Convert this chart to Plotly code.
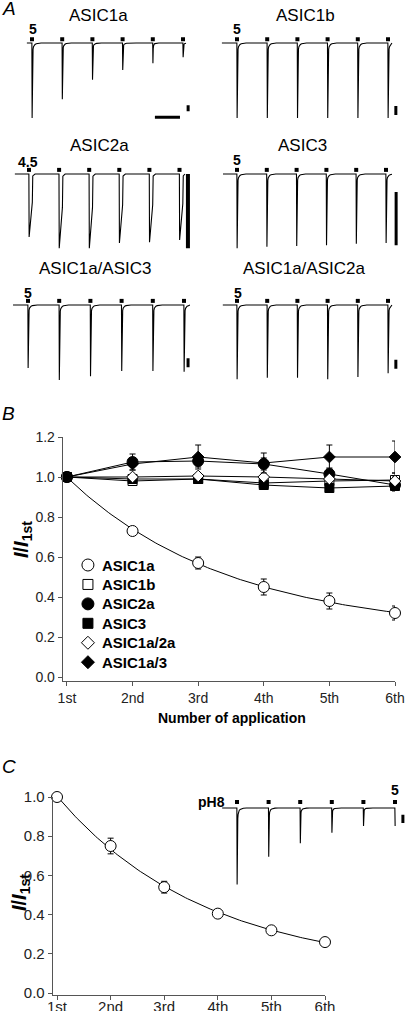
import numpy as np
import plotly.graph_objects as go

W, H = 405, 1011
FONT = "Liberation Sans, Arial, sans-serif"

# ---------------- DATA ----------------
applications = ["1st", "2nd", "3rd", "4th", "5th", "6th"]
app_index = [1, 2, 3, 4, 5, 6]

# Panel A: relative peak amplitudes of the six responses
peaks_asic1a = [1.00, 0.75, 0.49, 0.36, 0.27, 0.19]
peaks_asic1b = [1.00, 1.00, 1.00, 1.00, 1.00, 1.00]
peaks_asic2a = [0.84, 0.99, 0.99, 0.92, 0.91, 0.88]
peaks_asic3 = [0.99, 0.97, 0.96, 0.95, 0.93, 0.92]
peaks_asic1a_3 = [0.84, 1.00, 0.95, 0.88, 0.88, 0.89]
peaks_asic1a_2a = [0.99, 0.97, 0.97, 0.99, 0.96, 0.91]
peaks_ph8 = [1.02, 0.65, 0.47, 0.33, 0.24, 0.24]

# Panel B: normalized current I/I1st
b_asic1a = [1.00, 0.73, 0.57, 0.45, 0.38, 0.32]
b_asic1a_err = [0.00, 0.01, 0.03, 0.04, 0.04, 0.035]
b_asic1b = [1.00, 0.98, 0.99, 0.97, 0.98, 0.985]
b_asic1b_err = [0.00, 0.01, 0.01, 0.01, 0.02, 0.035]
b_asic2a = [1.00, 1.075, 1.08, 1.065, 1.015, 0.96]
b_asic2a_err = [0.00, 0.04, 0.03, 0.03, 0.03, 0.03]
b_asic3 = [1.00, 0.99, 0.99, 0.96, 0.945, 0.955]
b_asic3_err = [0.00, 0.01, 0.01, 0.01, 0.015, 0.02]
b_asic1a_2a = [1.00, 1.00, 1.005, 1.00, 0.99, 0.98]
b_asic1a_2a_err = [0.00, 0.01, 0.01, 0.01, 0.015, 0.02]
b_asic1a_3 = [1.00, 1.065, 1.10, 1.07, 1.10, 1.10]
b_asic1a_3_err = [0.00, 0.03, 0.06, 0.05, 0.06, 0.08]

# Panel C: ASIC1a at conditioning pH 8
c_asic1a = [1.00, 0.75, 0.54, 0.405, 0.32, 0.26]
c_asic1a_err = [0.00, 0.04, 0.03, 0.02, 0.01, 0.01]

# ---------------- helpers ----------------
def px(x):
    return x / W

def py(y):
    return 1 - y / H

U = 75.0  # px per unit amplitude in trace panels

def waveform(peaks, kind, t_start, t_end):
    t = [t_start]
    y = [0.0]
    for i, p in enumerate(peaks):
        t0 = float(i)
        t += [t0 - 0.004, t0 + 0.004]
        y += [0.0, -p]
        if kind == "slow":
            seg = [(0.11, -0.45 * p), (0.125, -0.03 * p), (0.2, 0.0)]
        else:
            seg = []
            for dt in [0.008, 0.015, 0.025, 0.035, 0.05, 0.07, 0.1, 0.14, 0.2, 0.3, 0.45]:
                seg.append((dt, -p * (0.9 * np.exp(-dt / 0.01) + 0.1 * np.exp(-dt / 0.06))))
        for dt, v in seg:
            if t0 + dt <= t_end:
                t.append(t0 + dt)
                y.append(v)
    if t[-1] < t_end:
        t.append(t_end)
        y.append(0.0)
    return t, y

fig = go.Figure()
layout = dict(
    width=W, height=H, margin=dict(l=0, r=0, t=0, b=0, autoexpand=False),
    paper_bgcolor="white", plot_bgcolor="rgba(0,0,0,0)",
    showlegend=False, font=dict(family=FONT, color="black", size=14),
)
annotations = []

trace_panels = [
    (peaks_asic1a, "fast", 32, 30.2, 43, -0.17, 5.1, "5", 0.03, 0.19,
     (5.17, -0.83, -0.91, 3), (4.07, 4.9, -0.99, 3), "ASIC1a", (98, 15.5), 0.05),
    (peaks_asic1b, "fast", 237, 30.2, 43, -0.5, 5.13, "5", 0.0, 0.19,
     (5.26, -0.84, -0.96, 3), None, "ASIC1b", (305, 15.5), 0.05),
    (peaks_asic2a, "slow", 29, 30.1, 174, -0.47, 5.18, "4.5", -0.03, 0.16,
     (5.28, 0.0, -0.99, 4), None, "ASIC2a", (99, 145.5), 0.055),
    (peaks_asic3, "fast", 237, 29.8, 174, -0.47, 5.2, "5", 0.0, 0.19,
     (5.34, -0.24, -0.95, 3), None, "ASIC3", (302, 145.5), 0.055),
    (peaks_asic1a_3, "fast", 28, 31.2, 305, -0.48, 5.19, "5", 0.0, 0.16,
     (5.13, -0.71, -0.83, 3), None, "ASIC1a/ASIC3", (95, 268), 0.055),
    (peaks_asic1a_2a, "fast", 237, 30.2, 305, -0.47, 5.13, "5", 0.02, 0.16,
     (5.26, -0.73, -0.85, 3), None, "ASIC1a/ASIC2a", (304, 268), 0.055),
    (peaks_ph8, "fast", 237, 31.6, 808, -0.47, 5.0, "5", 5.0, 0.24,
     (5.25, -0.09, -0.2, 3), None, None, None, 0.08),
]

ax_n = 0
for (pk, kind, x0, s, yb, ts, te, lab, lab_t, lab_y, vbar, hbar, title, txy, mk_y) in trace_panels:
    ax_n += 1
    xs = "" if ax_n == 1 else str(ax_n)
    L = x0 - 0.6 * s
    R = min(W, x0 + 5.6 * s)
    layout["xaxis" + xs] = dict(domain=[px(L), px(R)], range=[(L - x0) / s, (R - x0) / s],
                                visible=False, anchor="y" + xs, fixedrange=True)
    layout["yaxis" + xs] = dict(domain=[py(yb + 1.2 * U), py(yb - 0.3 * U)], range=[-1.2, 0.3],
                                visible=False, anchor="x" + xs, fixedrange=True)
    tt, yy = waveform(pk, kind, ts, te)
    fig.add_trace(go.Scatter(x=tt, y=yy, mode="lines", line=dict(color="black", width=1.1),
                             xaxis="x" + xs, yaxis="y" + xs, hoverinfo="skip", cliponaxis=False))
    fig.add_trace(go.Scatter(x=list(range(len(pk))), y=[mk_y] * len(pk), mode="markers",
                             marker=dict(symbol="square", size=4, color="black"),
                             xaxis="x" + xs, yaxis="y" + xs, hoverinfo="skip", cliponaxis=False))
    vt, v1, v2, vw = vbar
    fig.add_trace(go.Scatter(x=[vt, vt], y=[v1, v2], mode="lines", line=dict(color="black", width=vw),
                             xaxis="x" + xs, yaxis="y" + xs, hoverinfo="skip", cliponaxis=False))
    if hbar is not None:
        h1, h2, hy, hw = hbar
        fig.add_trace(go.Scatter(x=[h1, h2], y=[hy, hy], mode="lines", line=dict(color="black", width=hw),
                                 xaxis="x" + xs, yaxis="y" + xs, hoverinfo="skip", cliponaxis=False))
    annotations.append(dict(text="<b>%s</b>" % lab, x=lab_t, y=lab_y, xref="x" + xs, yref="y" + xs,
                            showarrow=False, font=dict(size=14, family=FONT), xanchor="center", yanchor="middle"))
    if title:
        annotations.append(dict(text=title, x=px(txy[0]), y=py(txy[1]), xref="paper", yref="paper",
                                showarrow=False, font=dict(size=17, family=FONT), xanchor="center", yanchor="middle"))

annotations.append(dict(text="<b>pH8</b>", x=px(227), y=py(802), xref="paper", yref="paper",
                        showarrow=False, font=dict(size=14, family=FONT), xanchor="right", yanchor="middle"))

# ---------------- panel B ----------------
def fit_exp(xv, yv):
    xv = np.asarray(xv, float) - 1
    yv = np.asarray(yv, float)
    best = None
    for c in np.linspace(0, yv.min() - 0.005, 300):
        slope, inter = np.polyfit(xv, np.log(yv - c), 1)
        pred = c + np.exp(inter + slope * xv)
        sse = np.sum((pred - yv) ** 2)
        if best is None or sse < best[0]:
            best = (sse, c, inter, slope)
    _, c, inter, slope = best
    xf = np.linspace(0, xv.max(), 120)
    return xf + 1, c + np.exp(inter + slope * xf)

axis_common = dict(showline=True, linecolor="#555", linewidth=1.3, ticks="outside", ticklen=4,
                   tickcolor="#555", showgrid=False, zeroline=False, fixedrange=True, automargin=False)

layout["xaxis8"] = dict(domain=[px(63), px(395)], range=[0.94, 6.0], anchor="y8",
                        tickvals=app_index, ticktext=applications,
                        tickfont=dict(size=14, family=FONT, color="#222"), **axis_common)
layout["yaxis8"] = dict(domain=[py(681), py(437)], range=[-0.02, 1.2], anchor="x8",
                        tickvals=[0, 0.2, 0.4, 0.6, 0.8, 1.0, 1.2], tickformat=".1f",
                        tickfont=dict(size=14, family=FONT, color="#222"), **axis_common)

xf, yf = fit_exp(app_index, b_asic1a)
fig.add_trace(go.Scatter(x=xf, y=yf, mode="lines", line=dict(color="black", width=1),
                         xaxis="x8", yaxis="y8", hoverinfo="skip"))

def err(a):
    return dict(type="data", array=a, visible=True, color="black", thickness=1, width=3)

b_series = [
    ("ASIC1a", b_asic1a, b_asic1a_err, "circle", 11, "white", "markers", 12),
    ("ASIC1b", b_asic1b, b_asic1b_err, "square", 9, "white", "lines+markers", 10),
    ("ASIC2a", b_asic2a, b_asic2a_err, "circle", 11, "black", "lines+markers", 12),
    ("ASIC3", b_asic3, b_asic3_err, "square", 9, "black", "lines+markers", 10),
    ("ASIC1a/2a", b_asic1a_2a, b_asic1a_2a_err, "diamond", 9, "white", "lines+markers", 10),
    ("ASIC1a/3", b_asic1a_3, b_asic1a_3_err, "diamond", 9, "black", "lines+markers", 10),
]
for name, vals, e, sym, size, fill, mode, _ in b_series:
    fig.add_trace(go.Scatter(x=app_index, y=vals, mode=mode, name=name, error_y=err(e),
                             line=dict(color="black", width=1),
                             marker=dict(symbol=sym, size=size, color=fill, line=dict(color="black", width=1)),
                             xaxis="x8", yaxis="y8", cliponaxis=False))

leg_x, leg_text_x, leg_y0, leg_dy = 1.32, 1.50, 0.56, 0.0972
for i, (name, vals, e, sym, size, fill, mode, lsize) in enumerate(b_series):
    yy = leg_y0 - i * leg_dy
    fig.add_trace(go.Scatter(x=[leg_x], y=[yy], mode="markers",
                             marker=dict(symbol=sym, size=lsize, color=fill, line=dict(color="black", width=1)),
                             xaxis="x8", yaxis="y8", hoverinfo="skip"))
    annotations.append(dict(text="<b>%s</b>" % name, x=leg_text_x, y=yy, xref="x8", yref="y8",
                            showarrow=False, xanchor="left", yanchor="middle",
                            font=dict(size=15, family=FONT)))

annotations.append(dict(text="<b>Number of application</b>", x=px(232), y=py(718), xref="paper", yref="paper",
                        showarrow=False, font=dict(size=14, family=FONT), xanchor="center", yanchor="middle"))
annotations.append(dict(text="<b><i>I</i>/<i>I</i><sub>1st</sub></b>", x=px(22), y=py(540), xref="paper",
                        yref="paper", showarrow=False, textangle=-90, font=dict(size=20, family=FONT),
                        xanchor="center", yanchor="middle"))

# ---------------- panel C ----------------
layout["xaxis9"] = dict(domain=[px(53), px(325)], range=[0.925, 6.0], anchor="y9",
                        tickvals=app_index, ticktext=applications, ticklabelstandoff=-6,
                        tickfont=dict(size=15, family=FONT, color="#222"), **axis_common)
layout["yaxis9"] = dict(domain=[py(995), py(797)], range=[-0.01, 1.0], anchor="x9",
                        tickvals=[0, 0.2, 0.4, 0.6, 0.8, 1.0], tickformat=".1f",
                        tickfont=dict(size=15, family=FONT, color="#222"), **axis_common)
xf, yf = fit_exp(app_index, c_asic1a)
fig.add_trace(go.Scatter(x=xf, y=yf, mode="lines", line=dict(color="black", width=1),
                         xaxis="x9", yaxis="y9", hoverinfo="skip"))
fig.add_trace(go.Scatter(x=app_index, y=c_asic1a, mode="markers", error_y=err(c_asic1a_err),
                         marker=dict(symbol="circle", size=11, color="white", line=dict(color="black", width=1)),
                         xaxis="x9", yaxis="y9", cliponaxis=False))
annotations.append(dict(text="<b><i>I</i>/<i>I</i><sub>1st</sub></b>", x=px(20), y=py(893), xref="paper",
                        yref="paper", showarrow=False, textangle=-90, font=dict(size=20, family=FONT),
                        xanchor="center", yanchor="middle"))

for letter, yc in [("A", 8.5), ("B", 414), ("C", 766)]:
    annotations.append(dict(text="<i>%s</i>" % letter, x=px(0), y=py(yc), xref="paper", yref="paper",
                            showarrow=False, xanchor="left", yanchor="middle", font=dict(size=19, family=FONT)))

layout["annotations"] = annotations
fig.update_layout(**layout)
fig.write_html("out.html", config={"displayModeBar": False, "staticPlot": True},
               post_script="document.body.style.margin='0';document.body.style.padding='0';"
                           "document.body.style.overflow='hidden';")
